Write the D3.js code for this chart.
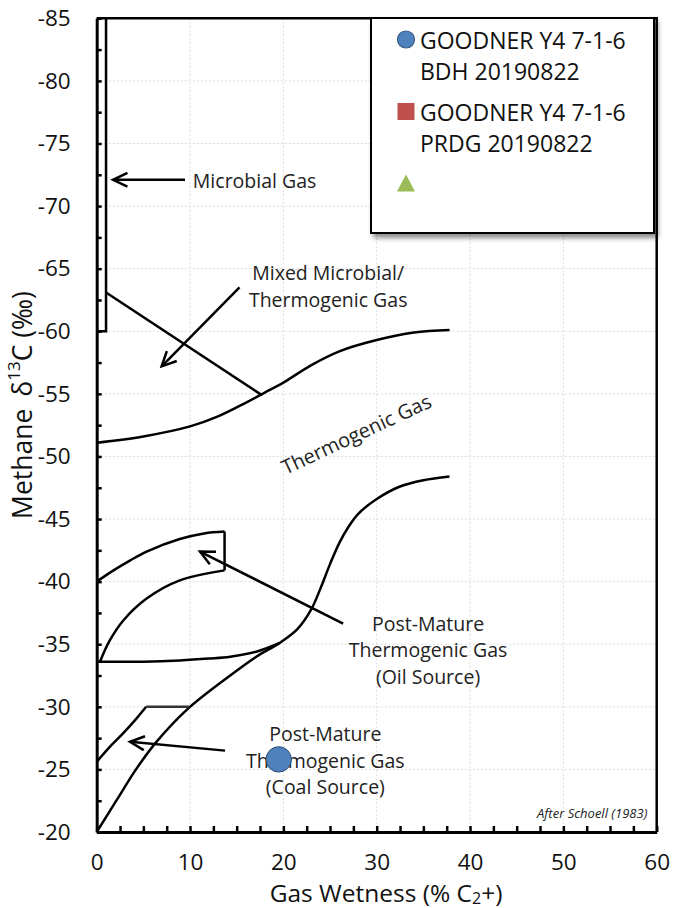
<!DOCTYPE html>
<html>
<head>
<meta charset="utf-8">
<script src="https://cdn.jsdelivr.net/npm/d3@7"></script>
<style>
  body { margin: 0; background: #fff; }
  svg { display: block; font-family: "Open Sans", sans-serif; }
</style>
</head>
<body>
<div id="chart"></div>
<script>
// Schoell (1983) methane d13C vs gas wetness

const xLabels = [0, 10, 20, 30, 40, 50, 60];
const yLabels = [-85, -80, -75, -70, -65, -60, -55, -50, -45, -40, -35, -30, -25, -20];

// field boundaries, [wetness %, d13C]
const microbialBox = [[0, -60], [1, -60], [1, -85]];
const mixedLine = [[1, -63.1], [17.7, -54.9]];
const thermoUpper = [[0, -51.1], [5, -51.6], [10, -52.4], [13, -53.2], [16, -54.3], [18, -55.1], [20, -55.9],
  [23, -57.3], [26, -58.4], [30, -59.3], [34, -59.9], [37.8, -60.1]];
const thermoLower = [[0, -20], [2.1, -22.5], [4.3, -25.1], [6.4, -27.2], [9.7, -29.8], [14.3, -32.5],
  [17.1, -34], [19.6, -35.1], [21.5, -36.2], [23, -37.8], [24, -39.5], [25, -41.4], [26, -43.1],
  [27, -44.4], [28, -45.4], [30, -46.6], [32.5, -47.6], [35, -48.1], [37.8, -48.4]];
const oilTop = [[0, -40], [1.8, -40.9], [3.6, -41.7], [5.35, -42.4], [8.9, -43.4], [11.5, -43.85], [13.7, -44]];
const oilSide = [[13.7, -44], [13.7, -40.9]];
const oilInner = [[0.35, -33.6], [1.4, -35.3], [2.85, -36.9], [5.35, -38.65], [8.9, -40.1], [13.7, -40.9]];
const oilBase = [[0, -33.6], [5, -33.6], [8.9, -33.7], [12, -33.85], [14.3, -34], [17.1, -34.4], [19.6, -35.1]];
const coalTop = [[0, -25.6], [1.4, -26.8], [2.85, -27.9], [4.3, -29.1], [5.3, -30]];
const coalFlat = [[5.3, -30], [9.9, -30]];

const arrows = [
  { from: [9.46, -72.1], to: [1.75, -72.1] },
  { from: [15.3, -63.5], to: [6.96, -57.2] },
  { from: [26.4, -36.65], to: [11.07, -42.4] },
  { from: [13.75, -26.5], to: [3.57, -27.2] }
];

const labels = [
  { lines: ["Microbial Gas"], at: [10.3, -72.1], anchor: "start" },
  { lines: ["Mixed Microbial/", "Thermogenic Gas"], at: [24.8, -64.7], anchor: "middle" },
  { lines: ["Post-Mature", "Thermogenic Gas", "(Oil Source)"], at: [35.5, -36.7], anchor: "middle" },
  { lines: ["Post-Mature", "Thermogenic Gas", "(Coal Source)"], at: [24.5, -27.9], anchor: "middle" }
];
const rotatedLabel = { text: "Thermogenic Gas", at: [27.8, -51.8], angle: -25 };

const samplesBDH = [[19.5, -25.8]];
const samplesPRDG = [];

const legendItems = [
  { lines: ["GOODNER Y4 7-1-6", "BDH 20190822"], shape: "circle", color: "#4F81BD", stroke: "#385D8A" },
  { lines: ["GOODNER Y4 7-1-6", "PRDG 20190822"], shape: "square", color: "#C0504D", stroke: "#C0504D" },
  { lines: [], shape: "triangle", color: "#9BBB59", stroke: "#9BBB59" }
];

const W = 673, H = 908;
const pLeft = 96.7, pRight = 656.7, pTop = 18.3, pBottom = 832;

const svg = d3.select("#chart").append("svg")
  .attr("width", W)
  .attr("height", H);

const x = d3.scaleLinear().domain([0, 60]).range([pLeft, pRight]);
const y = d3.scaleLinear().domain([-85, -20]).range([pTop, pBottom]);

// grid
svg.append("g").selectAll("line").data(xLabels.slice(1, -1)).join("line")
  .attr("x1", d => x(d)).attr("x2", d => x(d))
  .attr("y1", pTop).attr("y2", pBottom)
  .attr("stroke", "#dcdcdc").attr("stroke-dasharray", "2,2");
svg.append("g").selectAll("line").data(yLabels.slice(1, -1)).join("line")
  .attr("x1", pLeft).attr("x2", pRight)
  .attr("y1", d => y(d)).attr("y2", d => y(d))
  .attr("stroke", "#dcdcdc").attr("stroke-dasharray", "2,2");

// frame (top / right)
svg.append("path")
  .attr("d", `M${pLeft},${pTop}H${pRight}V${pBottom}`)
  .attr("fill", "none").attr("stroke", "#000").attr("stroke-width", 2.5);

// axes with inside ticks every 2.5
const yAxis = d3.axisLeft(y)
  .tickValues(d3.range(-85, -19, 2.5))
  .tickSize(-5).tickSizeOuter(0).tickPadding(26)
  .tickFormat(d => yLabels.includes(d) ? d : "");
const xAxis = d3.axisBottom(x)
  .tickValues(d3.range(0, 61, 2.5))
  .tickSize(-6).tickSizeOuter(0).tickPadding(22)
  .tickFormat(d => xLabels.includes(d) ? d : "");

const gy = svg.append("g").attr("transform", `translate(${pLeft},0)`).call(yAxis);
const gx = svg.append("g").attr("transform", `translate(0,${pBottom})`).call(xAxis);
[gx, gy].forEach(g => {
  g.select(".domain").attr("stroke-width", 3);
  g.selectAll(".tick line").attr("stroke-width", 2.5);
  g.selectAll("text").attr("font-size", 22.5).attr("font-family", "Open Sans").attr("fill", "#111");
});

// field boundaries
const line = d3.line().x(d => x(d[0])).y(d => y(d[1]));
const smooth = d3.line().x(d => x(d[0])).y(d => y(d[1])).curve(d3.curveCatmullRom.alpha(0.5));
const gCurves = svg.append("g").attr("fill", "none").attr("stroke", "#000").attr("stroke-width", 2.5);
[microbialBox, mixedLine, oilSide].forEach(d => gCurves.append("path").attr("d", line(d)));
[thermoUpper, thermoLower, oilTop, oilInner, oilBase, coalTop].forEach(d => gCurves.append("path").attr("d", smooth(d)));
gCurves.append("path").attr("d", line(coalFlat)).attr("stroke", "#333");

// arrows
const gArrows = svg.append("g").attr("fill", "none").attr("stroke", "#000").attr("stroke-width", 2.5);
arrows.forEach(a => {
  const x0 = x(a.from[0]), y0 = y(a.from[1]), x1 = x(a.to[0]), y1 = y(a.to[1]);
  const ang = Math.atan2(y0 - y1, x0 - x1);
  const L = 16, spread = 0.45;
  const w1 = [x1 + L * Math.cos(ang + spread), y1 + L * Math.sin(ang + spread)];
  const w2 = [x1 + L * Math.cos(ang - spread), y1 + L * Math.sin(ang - spread)];
  gArrows.append("path").attr("d", `M${x0},${y0}L${x1},${y1}`);
  gArrows.append("path").attr("d", `M${w1}L${x1},${y1}L${w2}`).attr("stroke-linejoin", "miter");
});

// annotations
const gLab = svg.append("g").attr("font-size", 19.5).attr("fill", "#222");
labels.forEach(l => {
  const t = gLab.append("text")
    .attr("x", x(l.at[0])).attr("y", y(l.at[1]))
    .attr("text-anchor", l.anchor).attr("dominant-baseline", "central");
  l.lines.forEach((s, i) => t.append("tspan").attr("x", x(l.at[0])).attr("dy", i ? 26.5 : 0).text(s));
});
gLab.append("text")
  .attr("transform", `translate(${x(rotatedLabel.at[0])},${y(rotatedLabel.at[1])}) rotate(${rotatedLabel.angle})`)
  .attr("text-anchor", "middle").attr("dominant-baseline", "central")
  .attr("font-size", 20)
  .text(rotatedLabel.text);

svg.append("text")
  .attr("x", x(59)).attr("y", y(-21.5))
  .attr("text-anchor", "end").attr("dominant-baseline", "central")
  .attr("font-size", 13).attr("font-style", "italic").attr("fill", "#222")
  .text("After Schoell (1983)");

// samples
svg.append("g").selectAll("circle").data(samplesBDH).join("circle")
  .attr("cx", d => x(d[0])).attr("cy", d => y(d[1])).attr("r", 12.7)
  .attr("fill", "#4F81BD").attr("stroke", "#2c4a70").attr("stroke-width", 1);
svg.append("g").selectAll("rect").data(samplesPRDG).join("rect")
  .attr("x", d => x(d[0]) - 8).attr("y", d => y(d[1]) - 8).attr("width", 16).attr("height", 16)
  .attr("fill", "#C0504D");

// axis titles
svg.append("text")
  .attr("transform", `translate(22,405) rotate(-90)`)
  .attr("text-anchor", "middle").attr("dominant-baseline", "central")
  .attr("font-size", 26.5).attr("fill", "#111")
  .call(t => {
    t.append("tspan").text("Methane");
    t.append("tspan").attr("dx", 12).text("δ");
    t.append("tspan").attr("font-size", 17).attr("dy", -9).text("13");
    t.append("tspan").attr("dy", 9).text("C (‰)");
  });
svg.append("text")
  .attr("x", 386).attr("y", 892)
  .attr("text-anchor", "middle").attr("dominant-baseline", "central")
  .attr("font-size", 24.5).attr("fill", "#111")
  .call(t => {
    t.append("tspan").text("Gas Wetness (% C");
    t.append("tspan").attr("font-size", 16).attr("dy", 6).text("2");
    t.append("tspan").attr("dy", -6).text("+)");
  });

// legend
const defs = svg.append("defs");
defs.append("filter").attr("id", "shadow").attr("x", "-10%").attr("y", "-10%").attr("width", "130%").attr("height", "130%")
  .append("feDropShadow").attr("dx", 3).attr("dy", 4).attr("stdDeviation", 2.5)
  .attr("flood-color", "#000").attr("flood-opacity", 0.45);

const lg = svg.append("g").attr("transform", "translate(371,18)");
lg.append("rect").attr("width", 283).attr("height", 215)
  .attr("fill", "#fff").attr("stroke", "#000").attr("stroke-width", 2)
  .attr("filter", "url(#shadow)");
legendItems.forEach((it, i) => {
  const g = lg.append("g").attr("transform", `translate(35,${21.5 + i * 72})`);
  if (it.shape === "circle") g.append("circle").attr("r", 8.5).attr("fill", it.color).attr("stroke", it.stroke).attr("stroke-width", 1.2);
  if (it.shape === "square") g.append("rect").attr("x", -8.5).attr("y", -8.5).attr("width", 17).attr("height", 17).attr("fill", it.color);
  if (it.shape === "triangle") g.append("path").attr("d", "M0,-9L9,8H-9Z").attr("fill", it.color);
  const t = g.append("text").attr("x", 14).attr("font-size", 23).attr("fill", "#111").attr("dominant-baseline", "central");
  it.lines.forEach((s, j) => t.append("tspan").attr("x", 14).attr("dy", j ? 31.5 : 0).text(s));
});
</script>
</body>
</html>
